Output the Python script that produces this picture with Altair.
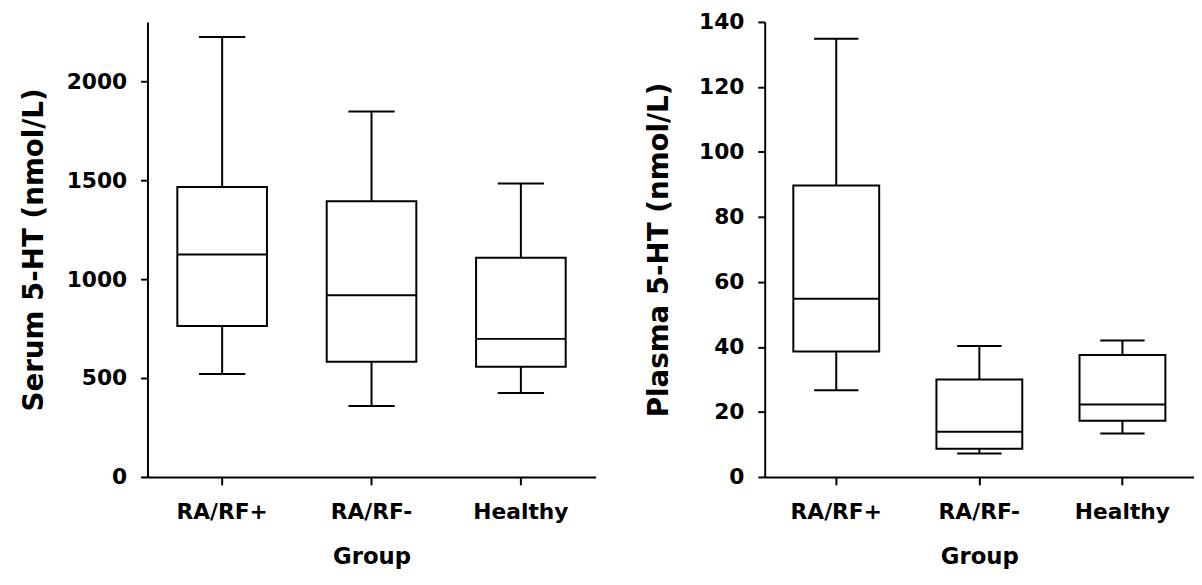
import altair as alt
import pandas as pd

groups = ["RA/RF+", "RA/RF-", "Healthy"]

serum_min = [520, 359, 424]
serum_q1 = [763, 582, 557]
serum_median = [1125, 918, 698]
serum_q3 = [1466, 1394, 1108]
serum_max = [2224, 1847, 1483]
serum_ticks = [0, 500, 1000, 1500, 2000]

plasma_min = [26.7, 7.2, 13.4]
plasma_q1 = [38.6, 8.7, 17.3]
plasma_median = [54.8, 13.9, 22.3]
plasma_q3 = [89.7, 30.0, 37.5]
plasma_max = [134.8, 40.3, 42.0]
plasma_ticks = [0, 20, 40, 60, 80, 100, 120, 140]

FONT = "DejaVu Sans"


def panel(lo, q1, med, q3, hi, ytitle, ymax, yticks, width, height, title_pad):
    df = pd.DataFrame({"group": groups, "lo": lo, "q1": q1, "med": med, "q3": q3, "hi": hi})
    step = width / 3.0
    xaxis = alt.Axis(labelAngle=0, labelPadding=17, tickSize=8, titlePadding=24,
                     labelFontSize=22, titleFontSize=23)
    xscale = alt.Scale(paddingInner=0, paddingOuter=0)
    yscale = alt.Scale(domain=[0, ymax], nice=False, zero=True)
    yaxis = alt.Axis(values=yticks, format="d", labelPadding=14, tickSize=7, titlePadding=title_pad,
                     grid=False, labelFontSize=22, titleFontSize=28)

    def X():
        return alt.X("group:N", sort=groups, title="Group", scale=xscale, axis=xaxis)

    def Y(f):
        return alt.Y(f + ":Q", scale=yscale, title=ytitle, axis=yaxis)

    base = alt.Chart(df)
    whisk = base.mark_rule(color="black", strokeWidth=2).encode(
        x=X(), y=Y("lo"), y2=alt.Y2("hi:Q"))
    box = base.mark_bar(fill="white", stroke="black", strokeWidth=2, size=0.6 * step).encode(
        x=X(), y=Y("q1"), y2=alt.Y2("q3:Q"))
    median = base.mark_tick(color="black", opacity=1, thickness=2, size=0.6 * step).encode(
        x=X(), y=Y("med"))
    cap_lo = base.mark_tick(color="black", opacity=1, thickness=2, size=0.31 * step).encode(
        x=X(), y=Y("lo"))
    cap_hi = base.mark_tick(color="black", opacity=1, thickness=2, size=0.31 * step).encode(
        x=X(), y=Y("hi"))
    return alt.layer(whisk, box, median, cap_lo, cap_hi).properties(width=width, height=height)


left = panel(serum_min, serum_q1, serum_median, serum_q3, serum_max,
             "Serum 5-HT (nmol/L)", 2300, serum_ticks, 453, 460, 18)
right = panel(plasma_min, plasma_q1, plasma_median, plasma_q3, plasma_max,
              "Plasma 5-HT (nmol/L)", 140, plasma_ticks, 434, 460, 25)

chart = alt.hconcat(left, right, spacing=51).properties(
    padding={"left": 12, "top": 0, "right": 0, "bottom": 0},
    background="white",
).configure_view(stroke=None).configure_axis(
    domainColor="black", domainWidth=2, tickColor="black", tickWidth=2,
    labelFont=FONT, labelFontWeight="bold", labelColor="black",
    titleFont=FONT, titleFontWeight="bold", titleColor="black", grid=False,
)

chart.save("out.html", embed_options={"renderer": "svg", "actions": False})
